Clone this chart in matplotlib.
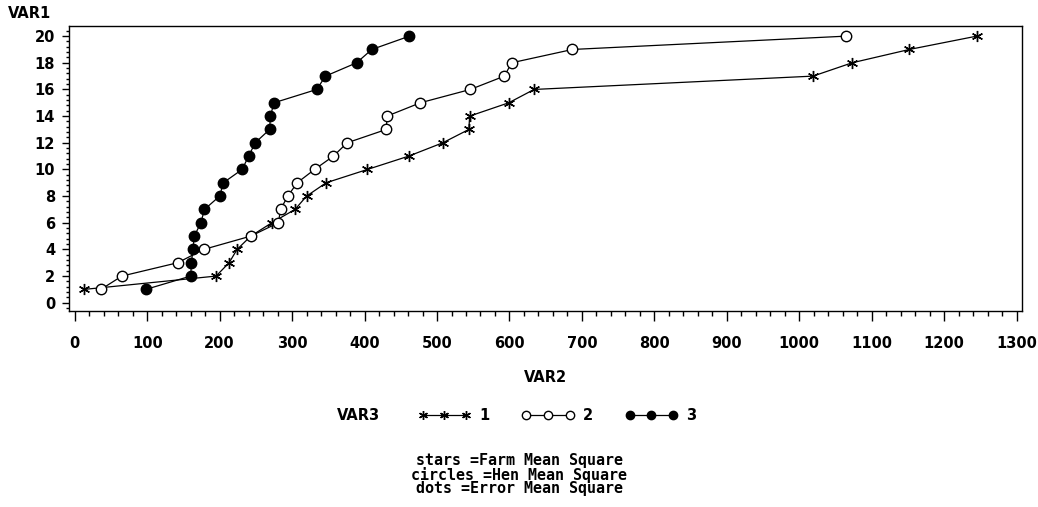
import matplotlib
matplotlib.use("Agg")
import matplotlib.pyplot as plt
from matplotlib.ticker import MultipleLocator
from matplotlib import font_manager

# ---- data ----
var1 = list(range(1, 21))
stars_x = [13, 195, 213, 224, 243, 272, 304, 320, 347, 404, 461, 508, 544, 545, 599, 634, 1019, 1073, 1152, 1245]
circles_x = [36, 65, 142, 178, 243, 281, 284, 294, 307, 331, 357, 376, 430, 431, 477, 546, 593, 603, 687, 1065]
dots_x = [98, 160, 161, 163, 165, 174, 179, 200, 205, 231, 240, 249, 269, 270, 275, 334, 346, 389, 410, 462]
series_labels = ["1", "2", "3"]
x_ticks = list(range(0, 1301, 100))
y_ticks = list(range(0, 21, 2))
footnotes = ["stars =Farm Mean Square", "circles =Hen Mean Square", "dots =Error Mean Square"]

names = {f.name for f in font_manager.fontManager.ttflist}
narrow = "Liberation Sans Narrow" if "Liberation Sans Narrow" in names else "DejaVu Sans"

fig = plt.figure(figsize=(10.38, 5.07), dpi=100)
ax = fig.add_axes([69/1038, 1-311/507, (1022-69)/1038, (311-26)/507])

star = (6, 2, 0)
l1, = ax.plot(stars_x, var1, color="black", lw=0.9, marker=star, ms=8, mew=1.0, label=series_labels[0])
l2, = ax.plot(circles_x, var1, color="black", lw=0.9, marker="o", ms=7.5, mfc="white", mec="black", mew=1.0, label=series_labels[1])
l3, = ax.plot(dots_x, var1, color="black", lw=0.9, marker="o", ms=7.5, mfc="black", mec="black", label=series_labels[2])

ax.set_xlim(-8, 1307.5)
ax.set_ylim(-0.62, 20.76)
ax.set_xticks(x_ticks)
ax.set_yticks(y_ticks)
ax.xaxis.set_minor_locator(MultipleLocator(20))
ax.yaxis.set_minor_locator(MultipleLocator(0.4))
ax.tick_params(axis="x", which="major", direction="out", length=7, width=1, pad=11)
ax.tick_params(axis="x", which="minor", direction="out", length=3.5, width=1)
ax.tick_params(axis="y", which="major", direction="out", length=5, width=1, pad=5)
ax.tick_params(axis="y", which="minor", direction="out", length=2.5, width=1)
for lab in ax.get_xticklabels() + ax.get_yticklabels():
    lab.set_fontfamily(narrow)
    lab.set_fontweight("bold")
    lab.set_fontsize(10.5)
for s in ax.spines.values():
    s.set_linewidth(1.0)

fig.text(8/1038, 1-14/507, "VAR1", family=narrow, weight="bold", fontsize=10.5, ha="left", va="center")
fig.text(545/1038, 1-378/507, "VAR2", family=narrow, weight="bold", fontsize=10.5, ha="center", va="center")
fig.text(358/1038, 1-416/507, "VAR3", family=narrow, weight="bold", fontsize=10.5, ha="center", va="center")

leg = fig.legend(handles=[l1, l2, l3], loc="center left", bbox_to_anchor=(405/1038, 1-416/507),
                 ncol=3, frameon=False, numpoints=3, handlelength=3.6, handletextpad=0.6,
                 columnspacing=2.2, prop={"family": narrow, "weight": "bold", "size": 10.5},
                 markerscale=0.8)

for i, t in enumerate(footnotes):
    fig.text(519/1038, 1-(461 + 14*i)/507, t, family="DejaVu Sans Mono", weight="bold",
             fontsize=10.8, ha="center", va="center")

fig.savefig("out.png", dpi=100)
